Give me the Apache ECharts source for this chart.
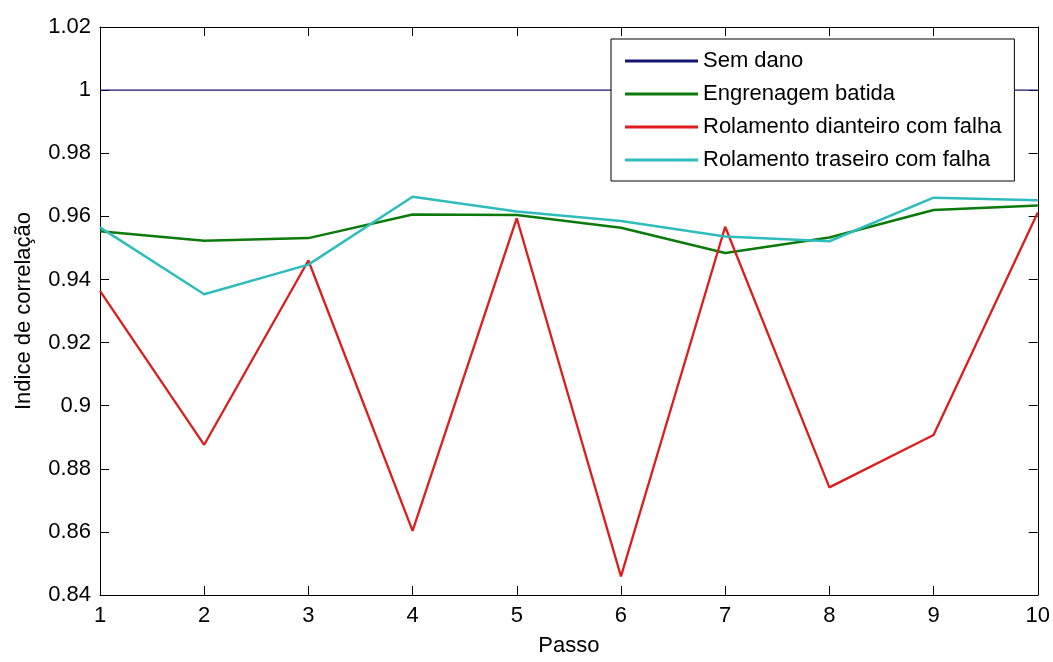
<!DOCTYPE html>
<html>
<head>
<meta charset="utf-8">
<script src="https://cdn.jsdelivr.net/npm/echarts@6/dist/echarts.min.js"></script>
<style>html,body{margin:0;padding:0;background:#fff;}#c{width:1053px;height:662px;}</style>
</head>
<body>
<div id="c"></div>
<script>
const steps = [1, 2, 3, 4, 5, 6, 7, 8, 9, 10];
const seriesNames = ['Sem dano', 'Engrenagem batida', 'Rolamento dianteiro com falha', 'Rolamento traseiro com falha'];
const semDano = [1, 1, 1, 1, 1, 1, 1, 1, 1, 1];
const engrenagem = [0.9553, 0.9523, 0.9531, 0.9606, 0.9604, 0.9564, 0.9484, 0.9533, 0.9620, 0.9634];
const dianteiro = [0.9364, 0.8876, 0.9460, 0.8603, 0.9594, 0.8459, 0.9567, 0.8741, 0.8907, 0.9612];
const traseiro = [0.9565, 0.9353, 0.9447, 0.9662, 0.9615, 0.9585, 0.9536, 0.9521, 0.9659, 0.9651];
const yTicks = [0.84, 0.86, 0.88, 0.9, 0.92, 0.94, 0.96, 0.98, 1, 1.02];

const colors = ['#14146e', '#0b7a0b', '#dd1c1c', '#2fbcbc'];
const widths = [1.3, 2.5, 2.3, 2.5];
const values = [semDano, engrenagem, dianteiro, traseiro];
const font = '"Liberation Sans", Arial, sans-serif';

const chart = echarts.init(document.getElementById('c'), null, {renderer: 'canvas'});
const tickStyle = {show: true, inside: true, length: 9, lineStyle: {color: '#000', width: 1}};
chart.setOption({
  animation: false,
  backgroundColor: '#fff',
  color: colors,
  grid: {left: 100, right: 13, top: 27, bottom: 61, containLabel: false},
  legend: {
    orient: 'vertical',
    left: 611, top: 39,
    data: seriesNames,
    icon: 'rect',
    itemWidth: 73, itemHeight: 3,
    itemGap: 11,
    padding: [11, 13, 10, 14],
    backgroundColor: '#fff',
    borderColor: '#000', borderWidth: 1,
    textStyle: {fontFamily: font, fontSize: 22, color: '#000', lineHeight: 22}
  },
  xAxis: [{
    type: 'value', min: 1, max: 10, interval: 1, position: 'bottom',
    name: 'Passo', nameLocation: 'middle', nameGap: 40,
    nameTextStyle: {fontFamily: font, fontSize: 22, color: '#000'},
    axisLine: {show: true, onZero: false, lineStyle: {color: '#000', width: 1}},
    axisTick: tickStyle,
    axisLabel: {fontFamily: font, fontSize: 22, color: '#000', margin: 10},
    splitLine: {show: false}
  }, {
    type: 'value', min: 1, max: 10, interval: 1, position: 'top',
    axisLine: {show: true, onZero: false, lineStyle: {color: '#000', width: 1}},
    axisTick: tickStyle,
    axisLabel: {show: false},
    splitLine: {show: false}
  }],
  yAxis: [{
    type: 'value', min: 0.84, max: 1.02, interval: 0.02, position: 'left',
    name: 'Indice de correlação', nameLocation: 'middle', nameGap: 65, nameRotate: 90,
    nameTextStyle: {fontFamily: font, fontSize: 22, color: '#000'},
    axisLine: {show: true, onZero: false, lineStyle: {color: '#000', width: 1}},
    axisTick: tickStyle,
    axisLabel: {fontFamily: font, fontSize: 22, color: '#000', margin: 9,
      formatter: v => { const t = yTicks.find(k => Math.abs(k - v) < 1e-9); return t === undefined ? '' : String(t); }},
    splitLine: {show: false}
  }, {
    type: 'value', min: 0.84, max: 1.02, interval: 0.02, position: 'right',
    axisLine: {show: true, onZero: false, lineStyle: {color: '#000', width: 1}},
    axisTick: tickStyle,
    axisLabel: {show: false},
    splitLine: {show: false}
  }],
  series: seriesNames.map((n, i) => ({
    name: n, type: 'line',
    xAxisIndex: 0, yAxisIndex: 0,
    data: steps.map((s, j) => [s, values[i][j]]),
    symbol: 'none', showSymbol: false,
    lineStyle: {color: colors[i], width: widths[i]},
    itemStyle: {color: colors[i]},
    z: 2 + i
  }))
});
</script>
</body>
</html>
